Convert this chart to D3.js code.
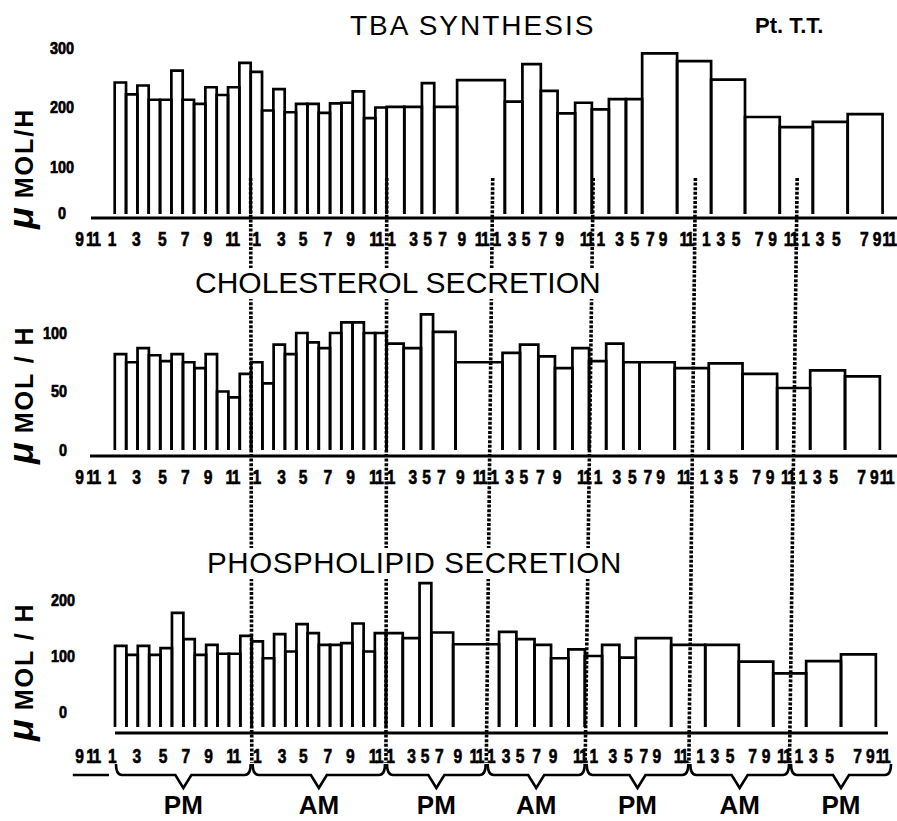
<!DOCTYPE html>
<html>
<head>
<meta charset="utf-8">
<script src="https://cdn.jsdelivr.net/npm/d3@7"></script>
<style>
  html, body { margin: 0; padding: 0; background: #fff; }
  svg { display: block; }
</style>
</head>
<body>
<svg id="chart" width="897" height="821"></svg>
<script>
// ---------------- DATA ----------------
// collection periods, in hours after 12 noon of the first day
const periodStart = [0,1,2,3,4,5,6,7,8,9,10,11,12,13,14,15,16,17,18,19,20,21,22,23,
  24,26,28,29.4,32,37.5,39.6,41.8,43.8,45.9,47.9,49.9,51.9,53.8,57.9,61.9,65.9,70,73.9,78];
const periodEnd = [1,2,3,4,5,6,7,8,9,10,11,12,13,14,15,16,17,18,19,20,21,22,23,24,
  26,28,29.4,32,37.5,39.6,41.8,43.8,45.9,47.9,49.9,51.9,53.8,57.9,61.9,65.9,70,73.9,78,82.1];

// series values (μmol / h)
const tbaSynthesis = [242,222,237,213,213,262,213,206,234,221,234,275,
  260,195,231,192,206,206,191,207,208,227,182,200,
  201,201,241,201,246,210,273,228,190,208,197,214,214,291,278,247,184,167,176,189];
const cholesterolSecretion = [82,75,87,81,76,82,75,70,82,50,45,65,
  75,57,90,82,100,92,87,100,109,109,100,100,
  91,87,116,101,75,83,90,80,70,87,76,91,75,75,70,74,65,53,68,63];
const phospholipidSecretion = [118,102,118,102,114,177,130,102,120,104,104,136,
  126,96,139,108,157,141,120,120,123,158,108,141,
  141,132,230,142,121,143,130,120,96,112,100,120,97,132,120,120,90,69,91,103];

// y tick labels
const tbaTicks = [0,100,200,300];
const cholTicks = [0,50,100];
const phosTicks = [0,100,200];

// x (clock hour) tick labels and the hour at which each is written
const tickHours = [-3.65,-2.25,
  -0.4,1.8,4.1,6.1,8.1,10.3,
  12.4,14.6,16.5,18.7,20.7,23.0,
  24.4,26.9,28.5,30.2,32.4,34.7,
  36.4,38.2,39.9,41.9,43.9,47.2,
  48.8,51.0,52.8,54.6,56.1,58.9,
  61.2,62.9,64.7,67.4,69.0,71.2,
  72.9,74.6,76.5,79.8,81.3,82.8];
const tickLabels = ["9","11",
  "1","3","5","7","9","11",
  "1","3","5","7","9","11",
  "1","3","5","7","9","11",
  "1","3","5","7","9","11",
  "1","3","5","7","9","11",
  "1","3","5","7","9","11",
  "1","3","5","7","9","11"];

// 12-hour periods
const halfDayBounds = [0,12,24,36,48,60,72,84];
const halfDayLabels = ["PM","AM","PM","AM","PM","AM","PM"];

// ---------------- LAYOUT ----------------
const FONT = "'Liberation Sans', Arial, Helvetica, sans-serif";
const segHours = [-4,0,12,24,36,48,60,72,84];
// the hand drawn time axis is piecewise: hourly part wider, drawn slightly skewed
const xTopRef = [74.8,114.7,250.7,386.7,492.3,592.7,695,796.7,898.7]; // at y = 215
const xBotRef = [74.8,115,251.7,386,486.7,585.7,689.3,790,892];        // at y = 725
function xScaleAt(yy) {
  const f = (yy - 215) / 510;
  return d3.scaleLinear().domain(segHours)
    .range(xTopRef.map((v, i) => v + (xBotRef[i] - v) * f));
}

const panels = [
  { title: "TBA SYNTHESIS", titleX: 350, titleY: 35, titleSize: 28, titleSpacing: 2,
    values: tbaSynthesis, yTicks: tbaTicks, yDomain: [0,100,300], yRange: [213,167,48],
    axisY: 218, axisX: [91,897], barBottom: 214, xRefY: 215, tickY: 232,
    yTickX: 62, yTickAnchor: "middle", ylabel: " MOL/H", ylabelY: 229 },
  { title: "CHOLESTEROL SECRETION", titleX: 195, titleY: 293, titleSize: 30, titleSpacing: 0,
    values: cholesterolSecretion, yTicks: cholTicks, yDomain: [0,100], yRange: [450,333],
    axisY: 456, axisX: [90,897], barBottom: 450, xRefY: 419, tickY: 470,
    yTickX: 67, yTickAnchor: "end", ylabel: " MOL / H", ylabelY: 464 },
  { title: "PHOSPHOLIPID SECRETION", titleX: 207, titleY: 573, titleSize: 29.5, titleSpacing: 0.6,
    values: phospholipidSecretion, yTicks: phosTicks, yDomain: [0,200], yRange: [712,600],
    axisY: 733, axisX: [115,888], barBottom: 727, xRefY: 725, tickY: 749,
    yTickX: 63, yTickAnchor: "middle", ylabel: " MOL / H", ylabelY: 741 }
];

const svg = d3.select("#chart");
svg.append("rect").attr("width", 897).attr("height", 821).attr("fill", "#fff");

const layerMarks = svg.append("g");
const layerDots = svg.append("g");
const layerText = svg.append("g");

panels.forEach(p => {
  const x = xScaleAt(p.xRefY);
  const y = d3.scaleLinear().domain(p.yDomain).range(p.yRange);
  const g = layerMarks.append("g");

  // baseline
  g.append("line")
    .attr("x1", p.axisX[0]).attr("x2", p.axisX[1])
    .attr("y1", p.axisY).attr("y2", p.axisY)
    .attr("stroke", "#000").attr("stroke-width", 3);

  // open-bottom bars
  g.selectAll("path.bar").data(p.values).join("path")
    .attr("class", "bar")
    .attr("d", (v, i) => {
      const pa = d3.path();
      pa.moveTo(x(periodStart[i]), p.barBottom);
      pa.lineTo(x(periodStart[i]), y(v));
      pa.lineTo(x(periodEnd[i]), y(v));
      pa.lineTo(x(periodEnd[i]), p.barBottom);
      return pa.toString();
    })
    .attr("fill", "none").attr("stroke", "#000")
    .attr("stroke-width", 2.7).attr("stroke-linejoin", "miter");

  // y axis tick labels
  const ya = g.append("g")
    .attr("transform", `translate(${p.yTickX},0)`)
    .call(d3.axisLeft(y).tickValues(p.yTicks).tickSize(0).tickPadding(0).tickFormat(d3.format("d")));
  ya.select(".domain").remove();
  ya.selectAll("text")
    .attr("x", 0)
    .attr("text-anchor", p.yTickAnchor)
    .attr("font-family", FONT).attr("font-size", 17).attr("font-weight", "bold")
    .attr("stroke", "#000").attr("stroke-width", 0.7)
    .attr("fill", "#000")
    .attr("transform", "scale(0.85,1)");

  // x tick labels (clock hours)
  const xa = g.append("g")
    .attr("transform", `translate(0,${p.tickY})`)
    .call(d3.axisBottom(x).tickValues(tickHours).tickSize(0).tickPadding(0)
      .tickFormat((d, i) => tickLabels[i]));
  xa.select(".domain").remove();
  xa.selectAll("text")
    .attr("font-family", FONT).attr("font-size", 20).attr("font-weight", "bold")
    .attr("letter-spacing", -2)
    .attr("stroke", "#000").attr("stroke-width", 0.6)
    .attr("fill", "#000")
    .attr("transform", "scale(0.78,1)");

  // y axis label
  const yl = layerText.append("text")
    .attr("transform", `translate(33,${p.ylabelY}) rotate(-90)`)
    .attr("font-family", FONT).attr("fill", "#000");
  yl.append("tspan").text("μ").attr("font-size", 36).attr("font-style", "italic").attr("font-weight", "bold");
  yl.append("tspan").text(p.ylabel).attr("font-size", 25).attr("letter-spacing", 2).attr("font-weight", "bold");

  // title with white backing
  const tg = layerText.append("g");
  const tt = tg.append("text")
    .attr("x", p.titleX).attr("y", p.titleY)
    .attr("font-family", FONT).attr("font-size", p.titleSize)
    .attr("letter-spacing", p.titleSpacing)
    .attr("fill", "#000").text(p.title);
  const bb = tt.node().getBBox();
  tg.insert("rect", "text")
    .attr("x", bb.x - 2).attr("y", bb.y + 2)
    .attr("width", bb.width + 4).attr("height", bb.height - 2)
    .attr("fill", "#fff");
});

// patient id
layerText.append("text")
  .attr("x", 755).attr("y", 33)
  .attr("font-family", FONT).attr("font-size", 22).attr("font-weight", "bold")
  .attr("fill", "#000").text("Pt. T.T.");

// dotted lines marking midnight / noon across panels
const xTopLine = xScaleAt(178), xBotLine = xScaleAt(763);
layerDots.selectAll("line.mark").data(halfDayBounds.slice(1, -1)).join("line")
  .attr("class", "mark")
  .attr("x1", d => xTopLine(d)).attr("y1", 178)
  .attr("x2", d => xBotLine(d)).attr("y2", 763)
  .attr("stroke", "#000").attr("stroke-width", 3.6)
  .attr("stroke-dasharray", "3,1.6");

// braces with PM / AM
const xb = xScaleAt(725);
const braceY = 775, tipY = 788, cuspY = 764;
const braces = d3.range(halfDayLabels.length).map(i => [halfDayBounds[i], halfDayBounds[i + 1]]);
svg.selectAll("path.brace").data(braces).join("path")
  .attr("class", "brace")
  .attr("d", ([a, b]) => {
    const xa = xb(a), xe = xb(b), xc = (xa + xe) / 2;
    const pa = d3.path();
    pa.moveTo(xa + 1, cuspY);
    pa.quadraticCurveTo(xa + 1, braceY, xa + 7, braceY);
    pa.lineTo(xc - 8, braceY);
    pa.lineTo(xc, tipY);
    pa.lineTo(xc + 8, braceY);
    pa.lineTo(xe - 7, braceY);
    pa.quadraticCurveTo(xe - 1, braceY, xe - 1, cuspY);
    return pa.toString();
  })
  .attr("fill", "none").attr("stroke", "#000").attr("stroke-width", 2.6);

svg.append("line")
  .attr("x1", xb(-4) - 2).attr("x2", xb(-0.6))
  .attr("y1", braceY).attr("y2", braceY)
  .attr("stroke", "#000").attr("stroke-width", 2.6);

svg.selectAll("text.half").data(braces).join("text")
  .attr("class", "half")
  .attr("x", ([a, b]) => (xb(a) + xb(b)) / 2)
  .attr("y", 814)
  .attr("text-anchor", "middle")
  .attr("font-family", FONT).attr("font-size", 26).attr("font-weight", "bold")
  .attr("fill", "#000")
  .text((d, i) => halfDayLabels[i]);
</script>
</body>
</html>
